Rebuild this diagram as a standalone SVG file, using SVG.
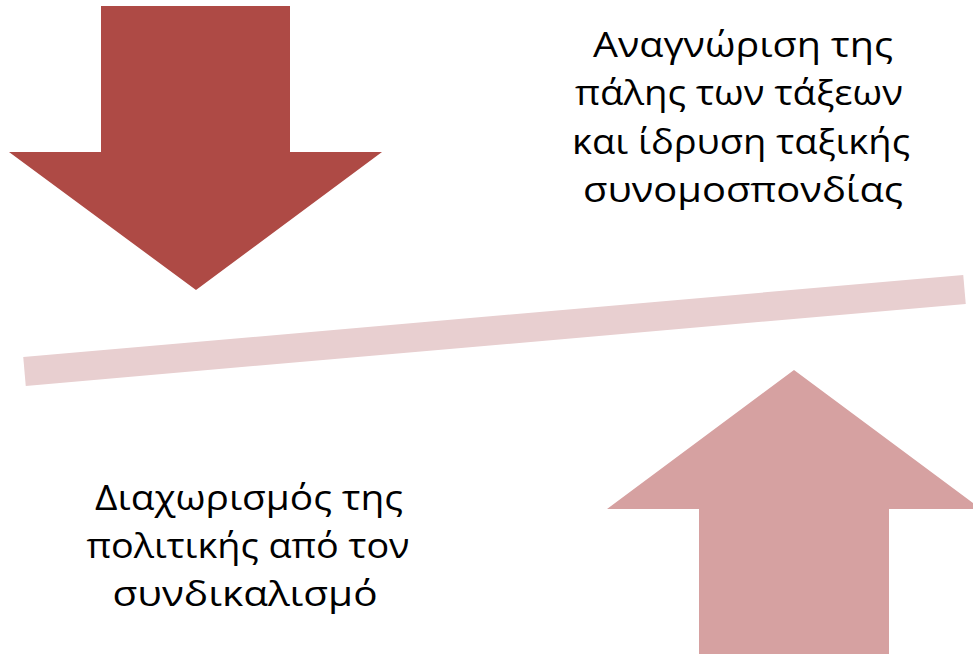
<svg xmlns="http://www.w3.org/2000/svg" width="973" height="656" viewBox="0 0 973 656">
<style>
.t{font-family:"Open Sans","Noto Sans","Liberation Sans",sans-serif;font-size:34px;fill:#000;text-anchor:middle}
</style>
<rect width="973" height="656" fill="#fff"/>
<g id="balance-bar">
<line x1="24.5" y1="371.5" x2="964.5" y2="289.5" stroke="#E8CFD0" stroke-width="29"/>
</g>
<g id="arrow-down">
<polygon points="101,6 290,6 290,152 382,152 196,290 9,152 101,152" fill="#AE4A45"/>
</g>
<g id="arrow-up">
<polygon points="794,370 981,509 889,509 889,654 699,654 699,509 607,509" fill="#D6A1A1"/>
</g>
<g id="text-top">
<text class="t" x="743" y="57" textLength="300" lengthAdjust="spacingAndGlyphs">Αναγνώριση της</text>
<text class="t" x="739" y="105" textLength="328" lengthAdjust="spacingAndGlyphs">πάλης των τάξεων</text>
<text class="t" x="741" y="154" textLength="338" lengthAdjust="spacingAndGlyphs">και ίδρυση ταξικής</text>
<text class="t" x="743" y="202" textLength="320" lengthAdjust="spacingAndGlyphs">συνομοσπονδίας</text>
</g>
<g id="text-bottom">
<text class="t" x="249" y="510" textLength="308" lengthAdjust="spacingAndGlyphs">Διαχωρισμός της</text>
<text class="t" x="248" y="558" textLength="323" lengthAdjust="spacingAndGlyphs">πολιτικής από τον</text>
<text class="t" x="245" y="606" textLength="265" lengthAdjust="spacingAndGlyphs">συνδικαλισμό</text>
</g>
</svg>
